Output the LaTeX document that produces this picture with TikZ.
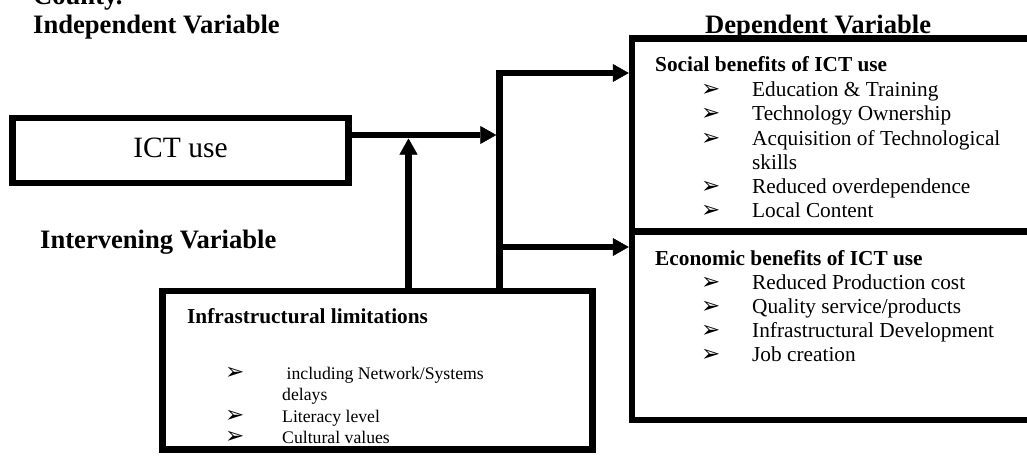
\documentclass[tikz,border=0pt]{standalone}
\usepackage{fontspec}
\setmainfont{Liberation Serif}
\newfontfamily\dingfont{DejaVu Sans}
\usetikzlibrary{arrows.meta,positioning}
\tikzset{flow/.style={-{Triangle[length=16pt,width=18pt,line width=.5pt]},line width=6.5pt},
  varbox/.style={draw,line width=6.5pt,inner sep=0pt},
  vartitle/.style={font=\bfseries\fontsize{26.6}{30}\selectfont,anchor=base west,inner sep=0pt},
  listhead/.style={font=\bfseries\fontsize{21.3}{24}\selectfont,anchor=base west,inner sep=0pt},
  listitem/.style={font=\fontsize{21.3}{24}\selectfont,anchor=base west,inner sep=0pt},
  smallitem/.style={font=\fontsize{17.7}{20}\selectfont,anchor=base west,inner sep=0pt},
  tick/.style={font=\dingfont\fontsize{23}{25}\selectfont,anchor=base west,inner sep=0pt}}

\begin{document}
\begin{tikzpicture}[x=1pt,y=-1pt]
\useasboundingbox (0,0) rectangle (1027,460);
\clip (0,0) rectangle (1027,460);
% headings
\node[vartitle] (county) at (33,5) {County.};
\node[vartitle] (indep) at (33,33.3) {Independent Variable};
\node[vartitle] (dep) at (705,33.3) {Dependent Variable};
\node[vartitle] (interv) at (40,248.3) {Intervening Variable};
% boxes
\node[varbox,minimum width=336pt,minimum height=65pt] (ict) at (180.5,150.5) {};
\node[font=\fontsize{29.5}{33}\selectfont,anchor=base,inner sep=0pt] (ictlabel) at (180.5,157) {ICT use};
\node[varbox,minimum width=413pt,minimum height=193pt] (social) at (838.5,135) {};
\node[varbox,minimum width=413pt,minimum height=188.5pt] (econ) at (838.5,325.75) {};
\node[varbox,minimum width=430pt,minimum height=158.5pt] (infra) at (377.5,370.25) {};
% social benefits
\node[listhead] (sochead) at (655,71.7) {Social benefits of ICT use};
\foreach \y/\txt [count=\i] in {96.7/{Education \& Training},120.9/{Technology Ownership},145.1/{Acquisition of Technological},193.5/{Reduced overdependence},217.7/{Local Content}}{
  \node[tick] (socb\i) at (701,\y) {➢};
  \node[listitem] (soct\i) at (752,\y) {\txt};
}
\node[listitem] (socskills) at (752,169.3) {skills};
% economic benefits
\node[listhead] (ecohead) at (655,265) {Economic benefits of ICT use};
\foreach \y/\txt [count=\i] in {289.5/{Reduced Production cost},313.5/{Quality service/products},337.5/{Infrastructural Development},361.7/{Job creation}}{
  \node[tick] (ecob\i) at (701,\y) {➢};
  \node[listitem] (ecot\i) at (752,\y) {\txt};
}
% infrastructural limitations
\node[listhead] (infhead) at (187,323) {Infrastructural limitations};
\foreach \y/\txt [count=\i] in {379.5/{\ including Network/Systems},422/{Literacy level},443.5/{Cultural values}}{
  \node[tick] (infb\i) at (225,\y) {➢};
  \node[smallitem] (inft\i) at (282,\y) {\txt};
}
\node[smallitem] (infdelays) at (282,400.5) {delays};
% connectors
\coordinate (split) at (499.5,135);
\coordinate (lift) at (408.5,138.5);
\draw[flow] (ict.east |- split) -- ([xshift=-3.25pt]split);
\draw[flow] (infra.north -| lift) -- (lift);
\draw[flow] (infra.north -| split) |- (social.west |- 0,73);
\draw[flow] (split |- 0,247) -- (econ.west |- 0,247);
\end{tikzpicture}
\end{document}
